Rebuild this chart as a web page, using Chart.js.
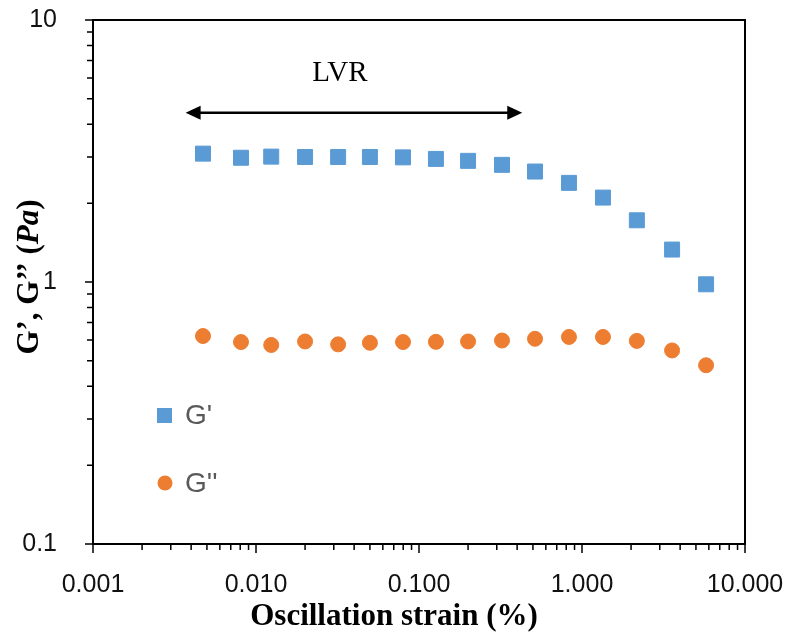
<!DOCTYPE html>
<html>
<head>
<meta charset="utf-8">
<script src="https://cdn.jsdelivr.net/npm/chart.js@4/dist/chart.umd.min.js"></script>
<style>
  html, body { margin: 0; padding: 0; background: #fff; }
  #wrap { width: 789px; height: 633px; position: relative; }
</style>
</head>
<body>
<div id="wrap"><canvas id="strainChart" width="789" height="633"></canvas></div>
<script>
// Barrido de amplitud: módulos G' y G'' frente a la deformación
var strain = [0.00473, 0.00809, 0.0124, 0.0200, 0.0319, 0.0500, 0.0798, 0.127,
              0.200, 0.323, 0.515, 0.832, 1.345, 2.17, 3.57, 5.77];
var gPrime = [3.09, 2.98, 3.01, 3.00, 3.00, 3.00, 2.99, 2.95,
              2.90, 2.80, 2.64, 2.39, 2.10, 1.72, 1.33, 0.98];
var gDoublePrime = [0.622, 0.590, 0.575, 0.593, 0.578, 0.586, 0.590, 0.591,
                    0.593, 0.598, 0.607, 0.617, 0.617, 0.596, 0.548, 0.481];

var xMajor = [0.001, 0.01, 0.1, 1, 10];
var xTickLabels = ['0.001', '0.010', '0.100', '1.000', '10.000'];
var yMajor = [0.1, 1, 10];
var yTickLabels = ['0.1', '1', '10'];

// flecha de la región viscoelástica lineal (LVR)
var lvrFrom = 0.0037, lvrTo = 0.43, lvrLevel = 4.43;

function logTicks(major) {
  var out = [];
  for (var i = 0; i < major.length; i++) {
    out.push({ value: major[i], major: true });
    if (i < major.length - 1) {
      for (var m = 2; m <= 9; m++) out.push({ value: major[i] * m, major: false });
    }
  }
  return out;
}

function toPoints(xs, ys) {
  return xs.map(function (x, i) { return { x: x, y: ys[i] }; });
}

// marco, marcas de los ejes, flecha LVR, leyenda y títulos
var decoPlugin = {
  id: 'deco',
  afterDraw: function (chart) {
    var ctx = chart.ctx, a = chart.chartArea;
    var xs = chart.scales.x, ys = chart.scales.y;
    ctx.save();

    ctx.strokeStyle = '#000';
    ctx.lineWidth = 2;
    ctx.strokeRect(a.left, a.top, a.right - a.left, a.bottom - a.top);

    ctx.lineWidth = 1.5;
    ctx.beginPath();
    xs.ticks.forEach(function (t) {
      var px = xs.getPixelForValue(t.value);
      ctx.moveTo(px, a.bottom);
      ctx.lineTo(px, a.bottom + (t.major ? 9 : 6));
    });
    ys.ticks.forEach(function (t) {
      var py = ys.getPixelForValue(t.value);
      ctx.moveTo(a.left, py);
      ctx.lineTo(a.left - (t.major ? 8 : 6), py);
    });
    ctx.stroke();

    // flecha de doble punta
    var x1 = xs.getPixelForValue(lvrFrom), x2 = xs.getPixelForValue(lvrTo);
    var yA = ys.getPixelForValue(lvrLevel);
    ctx.fillStyle = '#000';
    ctx.lineWidth = 2.5;
    ctx.beginPath();
    ctx.moveTo(x1 + 10, yA);
    ctx.lineTo(x2 - 10, yA);
    ctx.stroke();
    ctx.beginPath();
    ctx.moveTo(x1, yA); ctx.lineTo(x1 + 15, yA - 7); ctx.lineTo(x1 + 15, yA + 7);
    ctx.closePath(); ctx.fill();
    ctx.beginPath();
    ctx.moveTo(x2, yA); ctx.lineTo(x2 - 15, yA - 7); ctx.lineTo(x2 - 15, yA + 7);
    ctx.closePath(); ctx.fill();

    ctx.font = '29px "Liberation Serif", "Times New Roman", serif';
    ctx.textAlign = 'center';
    ctx.textBaseline = 'middle';
    ctx.fillText('LVR', (x1 + x2) / 2 - 14, yA - 39);

    // leyenda
    var ds = chart.data.datasets;
    ctx.fillStyle = ds[0].backgroundColor;
    ctx.fillRect(157, 408, 15, 15);
    ctx.fillStyle = ds[1].backgroundColor;
    ctx.beginPath();
    ctx.arc(165, 483, 7.5, 0, Math.PI * 2);
    ctx.fill();
    ctx.fillStyle = '#595959';
    ctx.font = '28px "Liberation Sans", Arial, sans-serif';
    ctx.textAlign = 'left';
    ctx.fillText(ds[0].label, 185, 416);
    ctx.fillText(ds[1].label, 185, 484);

    // título del eje x
    ctx.fillStyle = '#000';
    ctx.font = 'bold 31px "Liberation Serif", "Times New Roman", serif';
    ctx.textAlign = 'center';
    ctx.textBaseline = 'alphabetic';
    ctx.fillText('Oscillation strain (%)', 394, 625);

    // título del eje y (Pa en cursiva)
    var partA = 'G’, G’’ (', partB = 'Pa', partC = ')';
    var fBold = 'bold 31px "Liberation Serif", "Times New Roman", serif';
    var fItal = 'italic bold 31px "Liberation Serif", "Times New Roman", serif';
    ctx.font = fBold;
    var wA = ctx.measureText(partA).width, wC = ctx.measureText(partC).width;
    ctx.font = fItal;
    var wB = ctx.measureText(partB).width;
    var total = wA + wB + wC;
    ctx.translate(38, 277);
    ctx.rotate(-Math.PI / 2);
    ctx.textAlign = 'left';
    var sx = -total / 2;
    ctx.font = fBold; ctx.fillText(partA, sx, 0);
    ctx.font = fItal; ctx.fillText(partB, sx + wA, 0);
    ctx.font = fBold; ctx.fillText(partC, sx + wA + wB, 0);

    ctx.restore();
  }
};

var ctx = document.getElementById('strainChart').getContext('2d');
var strainChart = new Chart(ctx, {
  type: 'scatter',
  data: {
    datasets: [{
      label: "G'",
      data: toPoints(strain, gPrime),
      backgroundColor: '#5B9BD5',
      borderColor: '#5B9BD5',
      borderWidth: 1,
      pointStyle: 'rect',
      pointRadius: 10.6
    }, {
      label: "G''",
      data: toPoints(strain, gDoublePrime),
      backgroundColor: '#ED7D31',
      borderColor: '#ED7D31',
      borderWidth: 1,
      pointStyle: 'circle',
      pointRadius: 7.5
    }]
  },
  options: {
    responsive: false,
    animation: false,
    layout: { padding: { top: 20, right: 44, left: 0, bottom: 0 } },
    plugins: { legend: { display: false }, tooltip: { enabled: false } },
    scales: {
      x: {
        type: 'logarithmic',
        min: xMajor[0],
        max: xMajor[xMajor.length - 1],
        grid: { display: false },
        border: { display: false },
        afterBuildTicks: function (scale) { scale.ticks = logTicks(xMajor); },
        afterFit: function (scale) {
          scale.height = 89;
          scale.paddingLeft = 0;
          scale.paddingRight = 0;
        },
        ticks: {
          autoSkip: false,
          maxRotation: 0,
          padding: 18,
          color: '#111',
          font: { family: '"Liberation Sans", Arial, sans-serif', size: 25 },
          callback: function (v) {
            var i = xMajor.indexOf(v);
            return i >= 0 ? xTickLabels[i] : '';
          }
        }
      },
      y: {
        type: 'logarithmic',
        min: yMajor[0],
        max: yMajor[yMajor.length - 1],
        grid: { display: false },
        border: { display: false },
        afterBuildTicks: function (scale) { scale.ticks = logTicks(yMajor); },
        afterFit: function (scale) {
          scale.width = 93;
          scale.paddingTop = 0;
          scale.paddingBottom = 0;
        },
        ticks: {
          autoSkip: false,
          padding: 28,
          color: '#111',
          font: { family: '"Liberation Sans", Arial, sans-serif', size: 25 },
          callback: function (v) {
            var i = yMajor.indexOf(v);
            return i >= 0 ? yTickLabels[i] : '';
          }
        }
      }
    }
  },
  plugins: [decoPlugin]
});
</script>
</body>
</html>
